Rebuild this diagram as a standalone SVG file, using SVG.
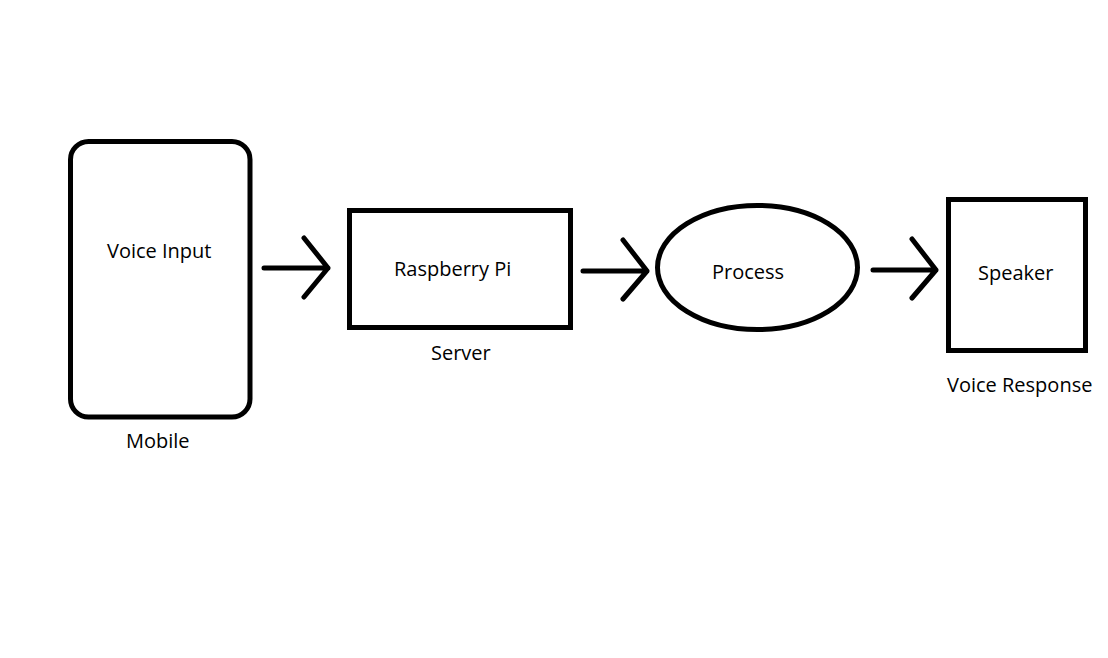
<svg xmlns="http://www.w3.org/2000/svg" width="1108" height="658" viewBox="0 0 1108 658">
<style>
.s{fill:none;stroke:#000;stroke-width:5;stroke-linecap:round;stroke-linejoin:round}
.b{fill:none;stroke:#000;stroke-width:5}
text{font-family:"Open Sans","Noto Sans","DejaVu Sans",sans-serif;font-size:20px;fill:#000}
</style>
<rect width="1108" height="658" fill="#fff"/>
<g id="mobile">
<rect class="b" x="70.5" y="141.5" width="179.5" height="275.5" rx="18"/>
<text x="107" y="258">Voice Input</text>
<text x="126" y="448">Mobile</text>
</g>
<g id="raspberry">
<rect class="b" x="349.5" y="210.5" width="221" height="117"/>
<text x="394" y="276">Raspberry Pi</text>
<text x="431" y="360">Server</text>
</g>
<g id="process">
<ellipse class="b" cx="757.5" cy="267.5" rx="100" ry="62"/>
<text x="712" y="279">Process</text>
</g>
<g id="speaker">
<rect class="b" x="948.5" y="199.5" width="137" height="151"/>
<text x="978" y="280">Speaker</text>
<text x="947" y="392">Voice Response</text>
</g>
<g id="connectors">
<path class="s" d="M264 268H328M304 238L328 268L304 297"/>
<path class="s" d="M583 271H647M623 240L647 271L623 299"/>
<path class="s" d="M873 270H936M912 239L936 270L912 298"/>
</g>
</svg>
